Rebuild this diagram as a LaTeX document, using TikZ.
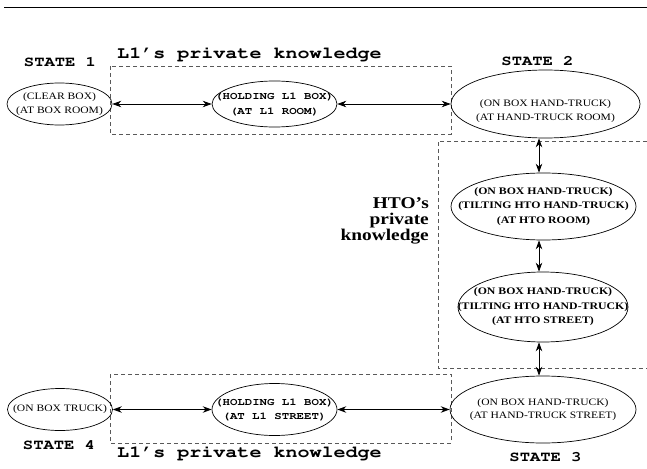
\documentclass[tikz,border=0pt]{standalone}
\usepackage[T1]{fontenc}
\usepackage{fontspec}
\usepackage{graphicx}
\setmainfont{Liberation Serif}[FakeStretch=1.18]
\usetikzlibrary{arrows.meta,shapes.geometric}
\newcommand{\cour}{\fontencoding{T1}\fontfamily{pcr}\fontseries{b}\selectfont}
\newcommand{\widen}[1]{\scalebox{1.2}[1]{#1}}
\newcommand{\twolines}[2]{\widen{\begin{tabular}{@{}c@{}}#1\\#2\end{tabular}}}
\begin{document}
\begin{tikzpicture}[x=1pt,y=-1pt,
  every node/.style={inner sep=0pt},
  ell/.style={draw, ellipse, line width=0.7pt},
  rmtxt/.style={align=center, font=\fontsize{9.8}{13.5}\selectfont},
  bftxt/.style={align=center, font=\bfseries\fontsize{10}{14.5}\selectfont},
  tttxt/.style={font=\fontsize{10.3}{14.5}\cour},
  statelbl/.style={font=\fontsize{14.3}{15}\cour},
  privlbl/.style={font=\fontsize{16.7}{18}\cour, anchor=base},
  htolbl/.style={align=right, font=\bfseries\fontsize{16.4}{16}\selectfont, anchor=base east},
  region/.style={draw=black!65, line width=0.7pt, dash pattern=on 4pt off 3pt},
  tip/.style={Stealth[length=9pt,width=6.5pt,inset=3pt]},
  link/.style={line width=0.8pt, {Stealth[length=9pt,width=6.5pt,inset=3pt]}-{Stealth[length=9pt,width=6.5pt,inset=3pt]}}
]
\useasboundingbox (0,0) rectangle (647,468);
\draw[line width=1.8pt] (4,7.5) -- (647,7.5);

% private-knowledge regions
\draw[region] (110,66) rectangle (451,134);
\draw[region] (647,141) -- (438,141) -- (438,368) -- (647,368);
\draw[region] (110,374) rectangle (451,443);

% state ellipses
\node[ell, minimum width=105pt, minimum height=42pt] (s1) at (59.5,104) {};
\node[ell, minimum width=125pt, minimum height=46pt] (h1) at (274.5,104) {};
\node[ell, minimum width=189pt, minimum height=68pt] (s2) at (545.5,104) {};
\node[ell, minimum width=185pt, minimum height=67pt] (hto1) at (543.5,206.5) {};
\node[ell, minimum width=170pt, minimum height=70pt] (hto2) at (543,307) {};
\node[ell, minimum width=186pt, minimum height=67pt] (s3) at (543,409.5) {};
\node[ell, minimum width=105pt, minimum height=42pt] (s4) at (60,409.5) {};
\node[ell, minimum width=125pt, minimum height=52pt] (h4) at (274.5,409.5) {};

% ellipse texts
\node[rmtxt] (s1t) at (s1) {(CLEAR BOX)\\(AT BOX ROOM)};
\node[tttxt] (h1t) at (h1) {\twolines{(HOLDING L1 BOX)}{(AT L1 ROOM)}};
\node[rmtxt] (s2t) at ([yshift=-7pt]s2.center) {(ON BOX HAND-TRUCK)\\(AT HAND-TRUCK ROOM)};
\node[bftxt] (hto1t) at (hto1) {(ON BOX HAND-TRUCK)\\(TILTING HTO HAND-TRUCK)\\(AT HTO ROOM)};
\node[bftxt] (hto2t) at (hto2) {(ON BOX HAND-TRUCK)\\(TILTING HTO HAND-TRUCK)\\(AT HTO STREET)};
\node[rmtxt] (s3t) at (s3) {(ON BOX HAND-TRUCK)\\(AT HAND-TRUCK STREET)};
\node[rmtxt] (s4t) at (s4) {(ON BOX TRUCK)};
\node[tttxt] (h4t) at (h4) {\twolines{(HOLDING L1 BOX)}{(AT L1 STREET)}};

% labels
\node[statelbl] (st1) at (60,62.5) {\widen{STATE 1}};
\node[statelbl] (st2) at (537.5,61) {\widen{STATE 2}};
\node[statelbl] (st3) at (545.5,457) {\widen{STATE 3}};
\node[statelbl] (st4) at (59,445) {\widen{STATE 4}};
\node[privlbl] (pk1) at (249.5,59) {\widen{L1's private knowledge}};
\node[privlbl] (pk4) at (249.5,457) {\widen{L1's private knowledge}};
\node[htolbl] (pkh) at (429,240) {HTO's\\private\\knowledge};

% connectors
\coordinate (ax) at (539,0);
\draw[link] (s1.east) -- (h1.west);
\draw[link] (h1.east) -- (s2.west);
\draw[link] (s2.south -| ax) -- (hto1.north -| ax);
\draw[link] (hto1.south -| ax) -- (hto2.north -| ax);
\draw[link] (hto2.south -| ax) -- (s3.north -| ax);
\draw[link] (s4.east) -- (h4.west);
\draw[link] (h4.east) -- (s3.west);
\end{tikzpicture}
\end{document}
